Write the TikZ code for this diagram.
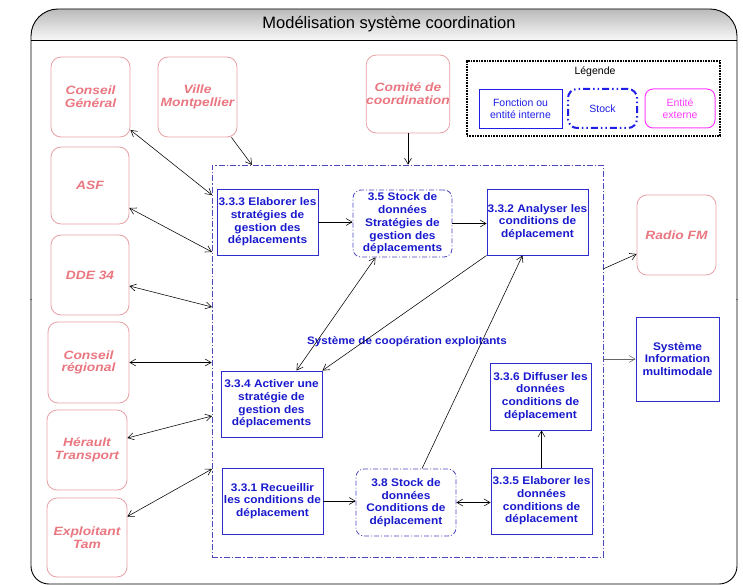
\documentclass[tikz,border=0pt]{standalone}
\usepackage{fontspec}
\setmainfont{Liberation Sans}
\newfontfamily\boxfont[FakeStretch=1.08]{Liberation Sans}
\newfontfamily\extfont[FakeStretch=1.15]{Liberation Sans}
\usetikzlibrary{arrows.meta,calc}
\definecolor{fnblue}{RGB}{45,45,205}
\definecolor{fntext}{RGB}{25,25,205}
\definecolor{sysc}{RGB}{75,70,190}
\definecolor{extborder}{RGB}{232,160,165}
\definecolor{exttext}{RGB}{234,118,128}
\definecolor{magentaL}{RGB}{255,60,255}
\definecolor{legblue}{RGB}{30,30,230}
\tikzset{
 fnbox/.style={draw=fnblue, line width=0.9pt, rectangle, minimum width=101pt, minimum height=66pt, inner sep=0pt, align=center, text=fntext, font=\boxfont\bfseries\fontsize{11}{12.7}\selectfont},
 stockbox/.style={fnbox, draw=sysc, line width=0.8pt, rounded corners=8pt, dash pattern=on 5pt off 2pt on 1pt off 2pt},
 extbox/.style={draw=extborder, line width=0.8pt, rounded corners=10pt, minimum width=79pt, minimum height=80pt, inner sep=0pt, align=center, text=exttext, font=\extfont\bfseries\itshape\fontsize{12}{12.7}\selectfont},
 arr/.style={-{Straight Barb[length=6pt,width=7pt]}, line width=0.55pt},
 darr/.style={{Straight Barb[length=6pt,width=7pt]}-{Straight Barb[length=6pt,width=7pt]}, line width=0.55pt},
 legtext/.style={font=\fontsize{10.5}{12.5}\selectfont, align=center, inner sep=0pt},
}
\begin{document}
\begin{tikzpicture}[x=1pt,y=-1pt]
\useasboundingbox (0,0) rectangle (743,585);
% outer frame
\begin{scope}
\clip[rounded corners=27pt] (31,300) -- (31,9) -- (737,9) -- (737,300) -- cycle;
\shade[top color=black!27, bottom color=black!3] (31,9) rectangle (737,40);
\end{scope}
\draw[line width=0.9pt, rounded corners=27pt] (31,300) -- (31,9) -- (737,9) -- (737,300);
\draw[line width=0.9pt, rounded corners=18pt] (31,299) -- (31,584) -- (737,584) -- (737,299);
\draw[line width=0.8pt] (31,40) -- (737,40);
\node[font=\fontsize{16.5}{18}\selectfont] (title) at (389,24) {Modélisation système coordination};
% legend
\node[draw=black, line width=1.6pt, dash pattern=on 1pt off 0.6pt, minimum width=253pt, minimum height=75pt] (leg) at (593.5,98.5) {};
\node[legtext] (legt) at (595,72) {Légende};
\node[legtext, draw=legblue, line width=0.9pt, minimum width=83pt, minimum height=39pt, text=legblue] (legf) at (520.5,108.5) {Fonction ou\\entité interne};
\node[legtext, draw=legblue, line width=2pt, rounded corners=9pt, dash pattern=on 7pt off 3pt on 1.5pt off 3pt on 1.5pt off 3pt, minimum width=69pt, minimum height=39pt, text=legblue] (legs) at (602.5,108.5) {Stock};
\node[legtext, draw=magentaL, line width=1pt, rounded corners=8pt, minimum width=70pt, minimum height=39pt, text=magentaL] (lege) at (680,108.5) {Entité\\externe};
% system boundary
\node[draw=sysc, line width=0.8pt, dash pattern=on 6pt off 2pt on 1.5pt off 2pt, minimum width=391pt, minimum height=392pt, inner sep=0pt] (sys) at (407.5,361) {};
\node[text=fntext, font=\boxfont\bfseries\fontsize{10.8}{12}\selectfont] (syslab) at (407,342) {Système de coopération exploitants};
% external entities
\node[extbox] (cg) at (90.5,97) {Conseil\\Général};
\node[extbox] (vm) at (197.5,97) {Ville\\Montpellier};
\node[extbox, minimum height=78pt] (com) at (408,94) {Comité de\\coordination};
\node[extbox, minimum width=78pt, minimum height=77pt] (asf) at (90,185.5) {ASF};
\node[extbox, minimum width=78pt] (dde) at (90,275) {DDE 34};
\node[extbox, minimum width=81pt, minimum height=81pt] (cr) at (88.5,362.5) {Conseil\\régional};
\node[extbox, minimum width=80pt] (ht) at (87,450) {Hérault\\Transport};
\node[extbox, minimum width=80pt, minimum height=79pt] (et) at (87,537.5) {Exploitant\\Tam};
\node[extbox] (radio) at (676.5,235) {Radio FM};
% functions
\node[fnbox, minimum width=83pt, minimum height=84pt] (sim) at (677.5,359) {Système\\Information\\multimodale};
\node[fnbox] (n333) at (267.5,222) {3.3.3 Elaborer les\\stratégies de\\gestion des\\déplacements};
\node[stockbox, minimum width=99pt, minimum height=67pt] (s35) at (402.5,223.5) {3.5 Stock de\\données\\Stratégies de\\gestion des\\déplacements};
\node[fnbox] (n332) at (537.5,222) {3.3.2 Analyser les\\conditions de\\déplacement};
\node[fnbox] (n334) at (271.5,404) {3.3.4 Activer une\\stratégie de\\gestion des\\déplacements};
\node[fnbox, minimum height=67pt] (n336) at (540.5,396.5) {3.3.6 Diffuser les\\données\\conditions de\\déplacement};
\node[fnbox] (n331) at (272.5,501) {3.3.1 Recueillir\\les conditions de\\déplacement};
\node[stockbox, minimum width=100pt, minimum height=67pt] (s38) at (406,502.5) {3.8 Stock de\\données\\Conditions de\\déplacement};
\node[fnbox] (n335) at (541.5,501) {3.3.5 Elaborer les\\données\\conditions de\\déplacement};
% boundary points
\coordinate (b1) at (212,195);
\coordinate (b2) at (252,165);
\coordinate (b4) at (212,252);
\coordinate (b5) at (212,307);
\coordinate (b7) at (212,416);
\coordinate (b8) at (212,469);
\coordinate (b9) at (603,269);
% connectors
\draw[darr] ([yshift=-33pt]cg.east) -- (b1);
\draw[arr] ([xshift=-6pt]vm.south east) -- (b2);
\draw[arr] (com.south) -- (com.south |- sys.north);
\draw[darr] ([yshift=-22.5pt]asf.east) -- (b4);
\draw[darr] ([yshift=-11pt]dde.east) -- (b5);
\draw[darr] (cr.east) -- (cr.east -| sys.west);
\draw[darr] ([yshift=12pt]ht.east) -- (b7);
\draw[darr] ([yshift=21pt]et.east) -- (b8);
\draw[arr] (n333.east) -- (n333.east -| s35.west);
\draw[arr] (s35.east) -- (s35.east -| n332.west);
\draw[darr] ([xshift=-27pt]s35.south) -- ([xshift=25pt]n334.north);
\draw[arr] (n332.south west) -- (n334.north east);
\draw[arr] ([xshift=16pt]s38.north) -- ([xshift=-15pt]n332.south);
\draw[arr] (b9) -- ([yshift=-19pt]radio.west);
\draw[arr, draw=black!60] (sim.west -| sys.east) -- (sim.west);
\draw[arr] (n335.north) -- (n335.north |- n336.south);
\draw[arr] (n331.east) -- (n331.east -| s38.west);
\draw[darr] (s38.east) -- (s38.east -| n335.west);
\end{tikzpicture}
\end{document}
